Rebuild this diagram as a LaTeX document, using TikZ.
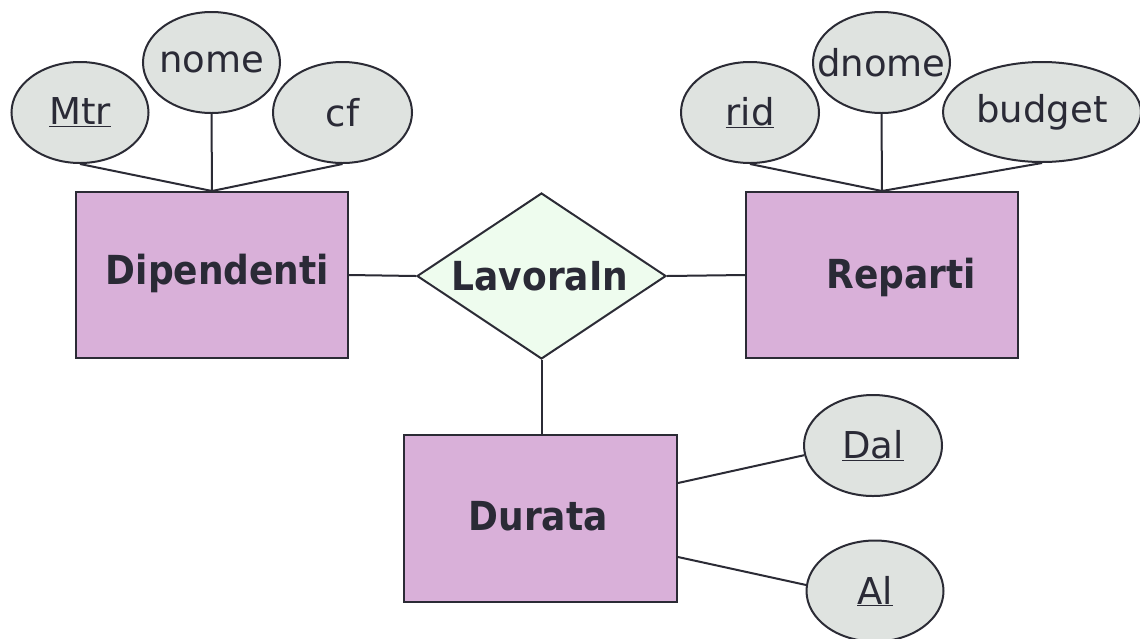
\documentclass[tikz,border=0pt]{standalone}
\usepackage{fontspec}
\setmainfont{DejaVu Sans}
\newfontfamily\erbold{DejaVu Sans Condensed Bold}
\usetikzlibrary{shapes.geometric}

\definecolor{inkc}{HTML}{2B2B35}
\definecolor{txt}{HTML}{2A2A36}
\definecolor{attrfill}{HTML}{DFE3E0}
\definecolor{entfill}{HTML}{D9B0D9}
\definecolor{relfill}{HTML}{EEFCEE}

\begin{document}
\begin{tikzpicture}[x=1pt,y=-1pt,
  ink/.style={draw=inkc, line width=2pt},
  attrname/.style={text=txt, inner sep=0pt, font=\fontsize{37}{44}\selectfont},
  attr/.style={ellipse, ink, fill=attrfill, inner sep=0pt,
    minimum width=137pt, minimum height=101pt,
    label={[attrname]center:#1}},
  entity/.style={rectangle, ink, fill=entfill, inner sep=0pt,
    minimum width=272pt, minimum height=166pt},
  rel/.style={diamond, ink, fill=relfill, inner sep=0pt,
    minimum width=249pt, minimum height=166pt},
  title/.style={anchor=base, text=txt, inner sep=0pt,
    font=\erbold\fontsize{40}{48}\selectfont},
  link/.style={ink}]
\useasboundingbox (0,0) rectangle (1140,638);
\fill[white] (0,0) rectangle (1140,638);

% entities and the relationship
\node[entity] (dip) at (212,275) {};
\node[entity] (rep) at (882,275) {};
\node[entity, minimum width=273pt, minimum height=167pt] (dur) at (540.5,518.5) {};
\node[rel] (lav) at (541.5,276) {};

% entity and relationship names
\node[title] (dipT) at (217.5,284) {Dipendenti};
\node[title] (repT) at (901.5,288) {Reparti};
\node[title] (lavT) at (540,290) {LavoraIn};
\node[title] (durT) at (538,530) {Durata};

% attributes (the middle ones lie on top of their neighbours)
\node[attr=\underline{Mtr}] (mtr) at (80,112.5) {};
\node[attr=cf, minimum width=139pt] (cf) at (342.5,112.5) {};
\node[attr=nome] (nome) at (211.5,62.5) {};
\node[attr=\underline{rid}, minimum width=138pt] (rid) at (750,112.5) {};
\node[attr=budget, minimum width=198pt, minimum height=100pt] (budget) at (1042,112) {};
\node[attr=dnome] (dnome) at (881.5,62.5) {};
\node[attr=\underline{Dal}, minimum width=138pt] (dal) at (873,445.5) {};
\node[attr=\underline{Al}] (al) at (875,591) {};

% attribute links
\draw[link] (mtr.south) -- (dip.north);
\draw[link] (nome.south) -- (dip.north);
\draw[link] (cf.south) -- (dip.north);
\draw[link] (rid.south) -- (rep.north);
\draw[link] (dnome.south) -- (rep.north);
\draw[link] (budget.south) -- (rep.north);
\draw[link] ([yshift=35.5pt]dur.east) -- (dal.188);
\draw[link] ([yshift=-38.5pt]dur.east) -- (al.175);

% relationship links
\draw[link] (dip.east) -- (lav.west);
\draw[link] (lav.east) -- (rep.west);
\draw[link] (lav.south) -- (lav.south |- dur.north);
\end{tikzpicture}
\end{document}
